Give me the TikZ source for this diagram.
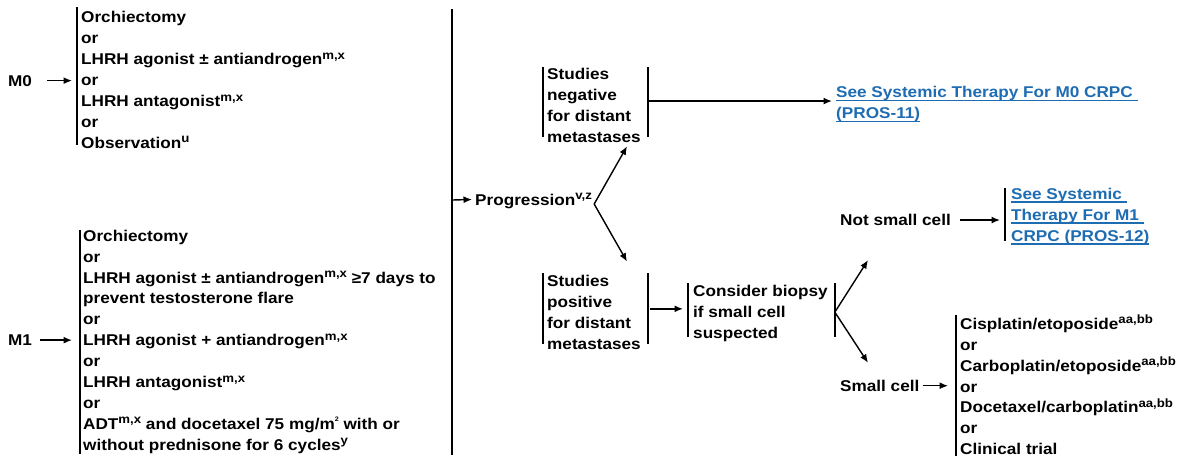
\documentclass[tikz,border=0pt]{standalone}
\usepackage{fontspec}
\setmainfont{Liberation Sans}[FakeStretch=1.1]
\usetikzlibrary{arrows.meta}
\definecolor{linkblue}{RGB}{30,108,178}
\newcommand\spx[1]{\raisebox{5.5pt}{\fontsize{12}{12}\selectfont #1}}
\newcommand\sptwo{\raisebox{8pt}{\fontsize{6.5}{6.5}\selectfont 2}}
\newcommand\ulink[1]{\setbox0=\hbox{#1}\rlap{\rule[-3.2pt]{\wd0}{1.3pt}}\box0}
\begin{document}
\begin{tikzpicture}[x=1pt,y=1pt,
  txt/.style={inner sep=0pt, font={\fontsize{15.6}{20.9}\selectfont\bfseries}, align=left},
  blk/.style={txt, anchor=north west},
  lbl/.style={txt, anchor=base west},
  linktxt/.style={blk, text=linkblue},
  bar/.style={line width=1.8pt},
  arr/.style={line width=1.4pt, -{Latex[length=8.5pt,width=7pt]}}
]
\useasboundingbox (0,0) rectangle (1191,-459);

% ---------- text blocks ----------
\node[blk] (m0list) at (81,-8.1) {\strut Orchiectomy\\ or\\ LHRH agonist ± antiandrogen\spx{m,x}\\ or\\ LHRH antagonist\spx{m,x}\\ or\\ Observation\spx{u}};

\node[blk] (m1list) at (83,-226.4) {\strut Orchiectomy\\ or\\ LHRH agonist ± antiandrogen\spx{m,x} ≥7 days to\\ prevent testosterone flare\\ or\\ LHRH agonist + antiandrogen\spx{m,x}\\ or\\ LHRH antagonist\spx{m,x}\\ or\\ ADT\spx{m,x} and docetaxel 75 mg/m\sptwo\ with or\\ without prednisone for 6 cycles\spx{y}};

\node[blk] (sneg) at (547,-64.7) {\strut Studies\\ negative\\ for distant\\ metastases};
\node[blk] (spos) at (547,-271.6) {\strut Studies\\ positive\\ for distant\\ metastases};
\node[blk] (consider) at (693,-282.1) {\strut Consider biopsy\\ if small cell\\ suspected};

\node[linktxt] (linkm0) at (836,-82.9) {\strut\ulink{See Systemic Therapy For M0 CRPC\ }\\ \ulink{(PROS-11)}};
\node[linktxt] (linkm1) at (1011,-184.7) {\strut\ulink{See Systemic\ }\\ \ulink{Therapy For M1\ }\\ \ulink{CRPC (PROS-12)}};

\node[blk] (small) at (960,-314.5) {\strut Cisplatin/etoposide\spx{aa,bb}\\ or\\ Carboplatin/etoposide\spx{aa,bb}\\ or\\ Docetaxel/carboplatin\spx{aa,bb}\\ or\\ Clinical trial};

% ---------- single labels ----------
\node[lbl] (m0) at (8,-86) {M0};
\node[lbl] (m1) at (8,-345.5) {M1};
\node[lbl] (prog) at (475,-205) {Progression\spx{v,z}};
\node[lbl] (notsmall) at (840,-225.6) {Not small cell};
\node[lbl] (smallcell) at (840,-391.3) {Small cell};

% ---------- bars ----------
\draw[bar] ([shift={(-4,1)}]m0list.north west) -- ([shift={(-4,4)}]m0list.south west);
\draw[bar] (452,-9) coordinate (bigtop) -- (452,-455) coordinate (bigbot);
\coordinate (split) at (452,-200);
\draw[bar] ([shift={(-3,-3.6)}]m1list.north west) -- ([shift={(-3,0)}]m1list.south west);

\draw[bar] ([shift={(-4,-2.3)}]sneg.north west) -- ([shift={(-4,5.3)}]sneg.south west);
\draw[bar] ([shift={(7,-2.3)}]sneg.north east) -- ([shift={(7,5.3)}]sneg.south east);
\draw[bar] ([shift={(-4,-1.4)}]spos.north west) -- ([shift={(-4,5.5)}]spos.south west);
\draw[bar] ([shift={(7,-1.4)}]spos.north east) -- ([shift={(7,5.5)}]spos.south east);
\draw[bar] ([shift={(-5,-0.9)}]consider.north west) -- ([shift={(-5,4.8)}]consider.south west);
\draw[bar] ([shift={(7,-0.9)}]consider.north east) -- ([shift={(7,4.8)}]consider.south east);

\draw[bar] ([shift={(-6,-3.3)}]linkm1.north west) -- ([shift={(-6,3.3)}]linkm1.south west);
\draw[bar] ([shift={(-4,-0.5)}]small.north west) -- ([shift={(-4,-0.5)}]small.south west);

% ---------- connectors ----------
\draw[arr] ([xshift=15pt]m0.east) -- ([xshift=-9pt]m0list.west |- m0.east);
\draw[arr] ([xshift=8pt]m1.east) -- ([xshift=-11pt]m1list.west |- m1.east);
\draw[arr] (split) -- ([shift={(-3,5.5)}]prog.base west);

\coordinate (papex) at ([shift={(2,1)}]prog.base east);
\draw[arr] (papex) -- ([shift={(80,-3.7)}]sneg.south west);
\draw[arr] (papex) -- ([shift={(80,10)}]spos.north west);

\coordinate (snegout) at ([shift={(7,2.6)}]sneg.east);
\draw[arr] (snegout) -- ([xshift=-4pt]linkm0.west |- snegout);

\coordinate (sposout) at ([shift={(9,1.7)}]spos.east);
\draw[arr] (sposout) -- ([xshift=-10pt]consider.west |- sposout);

\coordinate (capex) at ([xshift=7pt]consider.east);
\draw[arr] (capex) -- ([shift={(28,-34.5)}]notsmall.base west);
\draw[arr] (capex) -- ([shift={(28,28.5)}]smallcell.base west);

\draw[arr] ([xshift=9pt]notsmall.east) -- ([xshift=-11pt]linkm1.west |- notsmall.east);
\draw[arr] ([xshift=3pt]smallcell.east) -- ([xshift=-12pt]small.west |- smallcell.east);
\end{tikzpicture}
\end{document}
